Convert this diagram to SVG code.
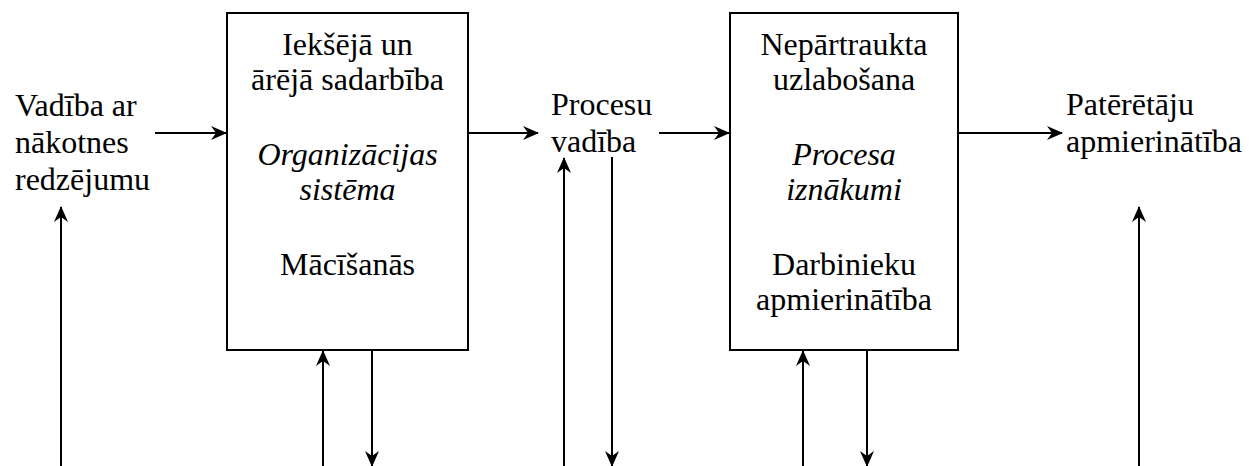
<svg xmlns="http://www.w3.org/2000/svg" width="1249" height="466" viewBox="0 0 1249 466">
  <defs>
    <marker id="arrow" viewBox="0 0 16 14" refX="15" refY="7" markerWidth="16" markerHeight="14" markerUnits="userSpaceOnUse" orient="auto">
      <path d="M0,0 L16,7 L0,14 L5,7 Z" fill="#000"/>
    </marker>
  </defs>
  <style>
    .lbl { font-family: 'Liberation Serif', 'Times New Roman', serif; font-size: 32px; fill: #000; }
    .mid { text-anchor: middle; }
    .it { font-style: italic; }
    .box { fill: #fff; stroke: #000; stroke-width: 2; }
    .conn line { stroke: #000; stroke-width: 2; marker-end: url(#arrow); }
  </style>
  <rect width="1249" height="466" fill="#fff"/>

  <g id="connectors" class="conn">
    <line x1="155" y1="133" x2="226" y2="133"/>
    <line x1="469" y1="133" x2="538" y2="133"/>
    <line x1="659" y1="133" x2="729" y2="133"/>
    <line x1="959" y1="133" x2="1062" y2="133"/>
    <line x1="61" y1="466" x2="61" y2="207"/>
    <line x1="323" y1="466" x2="323" y2="351"/>
    <line x1="372" y1="351" x2="372" y2="466"/>
    <line x1="564" y1="466" x2="564" y2="158"/>
    <line x1="612" y1="157" x2="612" y2="466"/>
    <line x1="803" y1="466" x2="803" y2="351"/>
    <line x1="867" y1="351" x2="867" y2="466"/>
    <line x1="1139" y1="466" x2="1139" y2="207"/>
  </g>

  <g id="vision" class="lbl">
    <text x="15" y="116">Vadība ar</text>
    <text x="15" y="153">nākotnes</text>
    <text x="15" y="190">redzējumu</text>
  </g>

  <g id="org-system" class="lbl">
    <rect class="box" x="227" y="13" width="241" height="337"/>
    <text class="mid" x="347.5" y="55">Iekšējā un</text>
    <text class="mid" x="347.5" y="90">ārējā sadarbība</text>
    <text class="mid it" x="347.5" y="165">Organizācijas</text>
    <text class="mid it" x="347.5" y="200">sistēma</text>
    <text class="mid" x="347.5" y="275">Mācīšanās</text>
  </g>

  <g id="process-mgmt" class="lbl">
    <text x="551" y="115">Procesu</text>
    <text x="551" y="152">vadība</text>
  </g>

  <g id="process-results" class="lbl">
    <rect class="box" x="730" y="13" width="228" height="337"/>
    <text class="mid" x="844" y="55">Nepārtraukta</text>
    <text class="mid" x="844" y="90">uzlabošana</text>
    <text class="mid it" x="844" y="165">Procesa</text>
    <text class="mid it" x="844" y="200">iznākumi</text>
    <text class="mid" x="844" y="275">Darbinieku</text>
    <text class="mid" x="844" y="310">apmierinātība</text>
  </g>

  <g id="customer" class="lbl">
    <text x="1066" y="115">Patērētāju</text>
    <text x="1066" y="152">apmierinātība</text>
  </g>
</svg>
